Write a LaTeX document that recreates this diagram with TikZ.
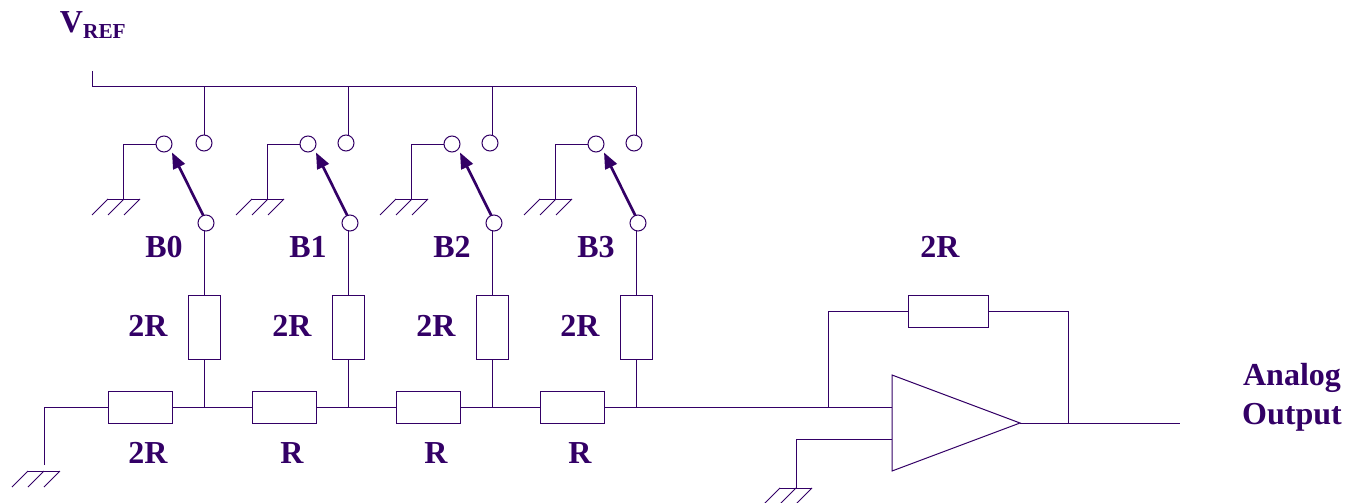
\documentclass[tikz,border=0pt]{standalone}
\usepackage{fontspec}
\setmainfont{Liberation Serif}
\usetikzlibrary{arrows.meta}
\definecolor{ink}{HTML}{330066}
\tikzset{
  x=0.75pt,y=-0.75pt,
  wire/.style={draw=ink,line width=0.75pt},
  contact/.style={circle,draw=ink,fill=white,line width=0.75pt,minimum size=12pt,inner sep=0pt,outer sep=0pt},
  vres/.style={rectangle,draw=ink,fill=white,line width=0.75pt,minimum width=24pt,minimum height=48pt,inner sep=0pt,outer sep=0pt},
  hres/.style={rectangle,draw=ink,fill=white,line width=0.75pt,minimum width=48pt,minimum height=24pt,inner sep=0pt,outer sep=0pt},
  lab/.style={text=ink,font=\fontsize{24}{28}\selectfont\bfseries,inner sep=0pt,outer sep=0pt},
  lever/.style={draw=ink,line width=2pt,-{Triangle[length=12pt,width=9.5pt]}}
}
\newcommand{\gnd}[3]{% hat centre x, hat y, name
  \coordinate (#3) at (#1,#2);
  \draw[wire] (#1-16,#2) -- (#1+16,#2);
  \foreach \k in {-16,0,16} \draw[wire] (#1+\k,#2) -- (#1+\k-16,#2+16);
}
\begin{document}
\begin{tikzpicture}
\useasboundingbox (0,0) rectangle (1350,503);
% bus
\coordinate (vtop) at (92,71);
\coordinate (vcorner) at (92,87);
\coordinate (bend) at (636,87);
\draw[wire] (vtop) -- (vcorner) -- (bend);
\node[lab,anchor=base west] (vref) at (60,33) {V\raisebox{-4.5pt}{\fontsize{16}{16}\selectfont REF}};
% main wire
\coordinate (leftc) at (44,407);
\coordinate (leftb) at (44,465);
\gnd{44}{471}{g4}
\draw[wire] (leftb) -- (leftc) -- (892,407);
% switch sections
\foreach \i/\dx/\cx in {0/0/204,1/144/346,2/288/490,3/432/634}{
  \node[contact] (a\i) at (164+\dx,144) {};
  \node[contact] (b\i) at (\cx,143) {};
  \node[contact] (s\i) at (206+\dx,223) {};
  \node[vres] (rv\i) at (204+\dx,327) {};
  \node[hres] (rh\i) at (140+\dx,407) {};
  \coordinate (bt\i) at (204+\dx,87);
  \coordinate (nd\i) at (204+\dx,407);
  \coordinate (gc\i) at (123+\dx,144);
  \gnd{124+\dx}{199}{g\i}
  \draw[wire] (bt\i) -- (bt\i |- b\i.north);
  \draw[wire] (a\i.west) -- (gc\i) -- (gc\i |- g\i);
  \draw[wire] (s\i.south -| rv\i.north) -- (rv\i.north);
  \draw[wire] (rv\i.south) -- (nd\i);
  \draw[lever] (s\i.110) -- ([shift={(8,8.5)}]a\i.center);
  \node[lab] (bl\i) at (164+\dx,247) {B\i};
}
\node[lab] (t0) at (148,326) {2R};
\node[lab] (t1) at (292,326) {2R};
\node[lab] (t2) at (436,326) {2R};
\node[lab] (t3) at (580,326) {2R};
\node[lab] (u0) at (148,453) {2R};
\node[lab] (u1) at (292,453) {R};
\node[lab] (u2) at (436,453) {R};
\node[lab] (u3) at (580,453) {R};
% op amp
\coordinate (oa) at (892,375);
\coordinate (ob) at (892,471);
\coordinate (oc) at (1020,423);
\draw[wire,fill=white] (oa) -- (oc) -- (ob) -- cycle;
\coordinate (plus) at (892,439);
\coordinate (pc) at (796,439);
\gnd{796}{488}{g5}
\draw[wire] (plus) -- (pc) -- (g5);
\coordinate (fbl) at (828,407);
\coordinate (fbr) at (1068,423);
\coordinate (outp) at (1180,423);
\node[hres,minimum width=60pt] (rf) at (948,311) {};
\draw[wire] (fbl) -- (fbl |- rf.west) -- (rf.west);
\draw[wire] (rf.east) -- (rf.east -| fbr) -- (fbr);
\draw[wire] (oc) -- (outp);
\node[lab] (tf) at (940,247) {2R};
\node[lab] (an) at (1292,378) {Analog};
\node[lab] (ou) at (1292,417) {Output};
\end{tikzpicture}
\end{document}
